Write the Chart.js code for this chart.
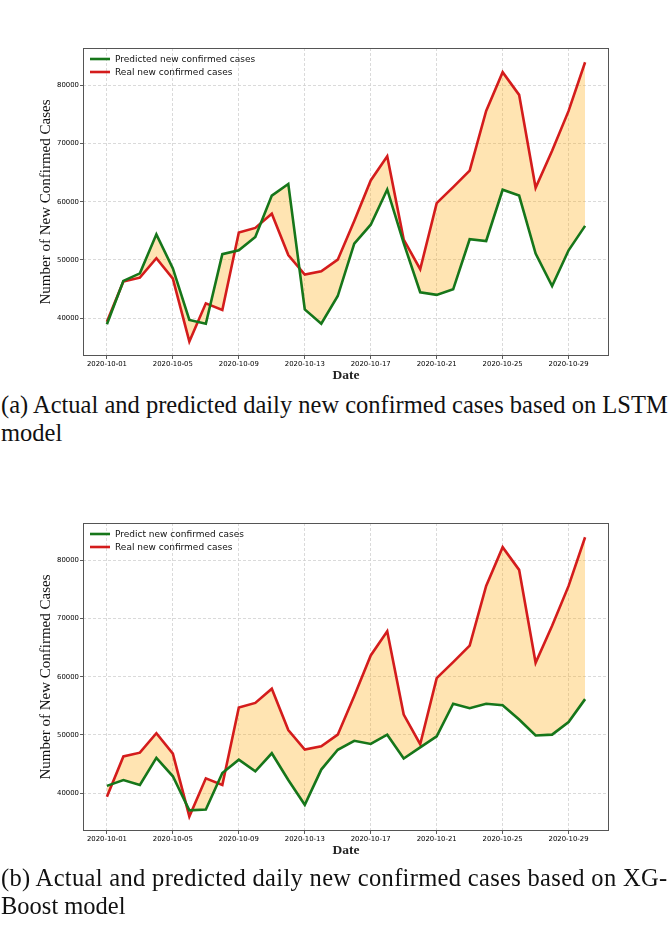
<!DOCTYPE html>
<html>
<head>
<meta charset="utf-8">
<script src="https://cdn.jsdelivr.net/npm/chart.js@4.4.1/dist/chart.umd.min.js"></script>
<style>
  html, body { margin: 0; padding: 0; background: #fff; }
  #page { position: relative; width: 669px; height: 937px; overflow: hidden; }
  .box { position: absolute; left: 0; width: 669px; height: 390px; }
  .caption {
    position: absolute; left: 1px; width: 668px;
    font-family: "Liberation Serif", "DejaVu Serif", serif;
    font-size: 24.5px; line-height: 28px; color: #111; white-space: nowrap;
  }
</style>
</head>
<body>
<div id="page">
  <div class="box" style="top:0"><canvas id="lstmChart" width="669" height="390"></canvas></div>
  <div class="caption" id="capA" style="top:391px">
    <div>(a) Actual and predicted daily new confirmed cases based on LSTM</div>
    <div>model</div>
  </div>
  <div class="box" style="top:475px"><canvas id="xgbChart" width="669" height="390"></canvas></div>
  <div class="caption" id="capB" style="top:864px">
    <div style="letter-spacing:0.32px">(b) Actual and predicted daily new confirmed cases based on XG-</div>
    <div>Boost model</div>
  </div>
</div>
<script>
// Data
const dates = [
  '2020-10-01', '2020-10-02', '2020-10-03', '2020-10-04', '2020-10-05',
  '2020-10-06', '2020-10-07', '2020-10-08', '2020-10-09', '2020-10-10',
  '2020-10-11', '2020-10-12', '2020-10-13', '2020-10-14', '2020-10-15',
  '2020-10-16', '2020-10-17', '2020-10-18', '2020-10-19', '2020-10-20',
  '2020-10-21', '2020-10-22', '2020-10-23', '2020-10-24', '2020-10-25',
  '2020-10-26', '2020-10-27', '2020-10-28', '2020-10-29', '2020-10-30'
];
const realCases = [
  39400, 46300, 46950, 50300, 46800, 36000, 42550, 41400, 54700, 55500,
  57950, 50830, 47500, 48050, 50050, 56700, 63650, 67800, 53500, 48400,
  59750, 62500, 65350, 75600, 82250, 78350, 62400, 68750, 75600, 83950
];
const lstmPredicted = [
  38950, 46400, 47700, 54400, 48550, 39700, 39050, 51000, 51650, 53950,
  61050, 63050, 41500, 39050, 43800, 52800, 56050, 62100, 52900, 44450,
  44000, 44950, 53550, 53250, 62050, 61050, 51100, 45500, 51650, 55850
];
const xgbPredicted = [
  41250, 42250, 41400, 46050, 42900, 37050, 37200, 43450, 45750, 43750,
  46850, 42250, 38000, 44050, 47450, 49000, 48450, 50050, 45950, 47850,
  49750, 55350, 54600, 55350, 55100, 52650, 49900, 50050, 52200, 56150
];
const xTickDates = ['2020-10-01', '2020-10-05', '2020-10-09', '2020-10-13',
                    '2020-10-17', '2020-10-21', '2020-10-25', '2020-10-29'];
const yTicks = [40000, 50000, 60000, 70000, 80000];

const GREEN = '#16761a';
const RED = '#d41c1c';
const tickFont = { family: '"DejaVu Sans"', size: 6.9 };

// legend drawn inside the axes, top-left, no frame
const insideLegend = {
  id: 'insideLegend',
  afterDatasetsDraw(chart) {
    const { ctx, chartArea } = chart;
    ctx.save();
    ctx.font = '9px "DejaVu Sans"';
    ctx.textBaseline = 'middle';
    chart.data.datasets.forEach((ds, i) => {
      const x = chartArea.left + 7;
      const y = chartArea.top + 11 + i * 13;
      ctx.strokeStyle = ds.borderColor;
      ctx.lineWidth = 2.6;
      ctx.beginPath();
      ctx.moveTo(x, y);
      ctx.lineTo(x + 20, y);
      ctx.stroke();
      ctx.fillStyle = '#111';
      ctx.fillText(ds.label, x + 25, y + 0.5);
    });
    ctx.restore();
  }
};

// full box around the axes like matplotlib
const axesFrame = {
  id: 'axesFrame',
  afterDraw(chart) {
    const { ctx, chartArea } = chart;
    ctx.save();
    ctx.strokeStyle = '#555';
    ctx.lineWidth = 1;
    ctx.strokeRect(chartArea.left + 0.5, chartArea.top + 0.5,
                   chartArea.right - chartArea.left - 1, chartArea.bottom - chartArea.top - 1);
    ctx.restore();
  }
};

function makeChart(id, predicted, predictedLabel) {
  const ctx = document.getElementById(id).getContext('2d');
  return new Chart(ctx, {
    type: 'line',
    data: {
      datasets: [{
        label: predictedLabel,
        data: predicted.map((v, i) => ({ x: i, y: v })),
        borderColor: GREEN,
        borderWidth: 2.6,
        pointRadius: 0,
        fill: false
      }, {
        label: 'Real new confirmed cases',
        data: realCases.map((v, i) => ({ x: i, y: v })),
        borderColor: RED,
        borderWidth: 2.6,
        pointRadius: 0,
        fill: { target: 0 },
        backgroundColor: 'rgba(255, 165, 0, 0.3)'
      }]
    },
    options: {
      responsive: false,
      animation: false,
      layout: { padding: { left: 0, top: 48, right: 60, bottom: 0 } },
      plugins: { legend: { display: false }, tooltip: { enabled: false } },
      scales: {
        x: {
          type: 'linear',
          min: -1.45,
          max: dates.length - 1 + 1.45,
          afterBuildTicks: scale => {
            scale.ticks = xTickDates.map(d => ({ value: dates.indexOf(d) }));
          },
          afterFit: scale => { scale.height = 34; },
          ticks: {
            callback: v => dates[v],
            font: tickFont,
            color: '#000',
            padding: 1,
            maxRotation: 0,
            autoSkip: false
          },
          grid: {
            color: '#d0d0d0',
            lineWidth: 0.8,
            tickLength: 3,
            tickColor: '#333',
            tickBorderDash: []
          },
          border: { display: false, dash: [3, 2] },
          title: {
            display: true,
            text: 'Date',
            font: { family: '"Liberation Serif"', size: 13.5, weight: 'bold' },
            color: '#222',
            padding: { top: 0, bottom: 6 }
          }
        },
        y: {
          min: 33500,
          max: 86400,
          afterBuildTicks: scale => {
            scale.ticks = yTicks.map(v => ({ value: v }));
          },
          afterFit: scale => { scale.width = 83; },
          ticks: {
            callback: v => String(v),
            font: tickFont,
            color: '#000',
            padding: 1
          },
          grid: {
            color: '#d0d0d0',
            lineWidth: 0.8,
            tickLength: 3,
            tickColor: '#333',
            tickBorderDash: []
          },
          border: { display: false, dash: [3, 2] },
          title: {
            display: true,
            text: 'Number of New Confirmed Cases',
            font: { family: '"Liberation Serif"', size: 15 },
            color: '#111',
            padding: { top: 37, bottom: 0 }
          }
        }
      }
    },
    plugins: [insideLegend, axesFrame]
  });
}

makeChart('lstmChart', lstmPredicted, 'Predicted new confirmed cases');
makeChart('xgbChart', xgbPredicted, 'Predict new confirmed cases');
</script>
</body>
</html>
